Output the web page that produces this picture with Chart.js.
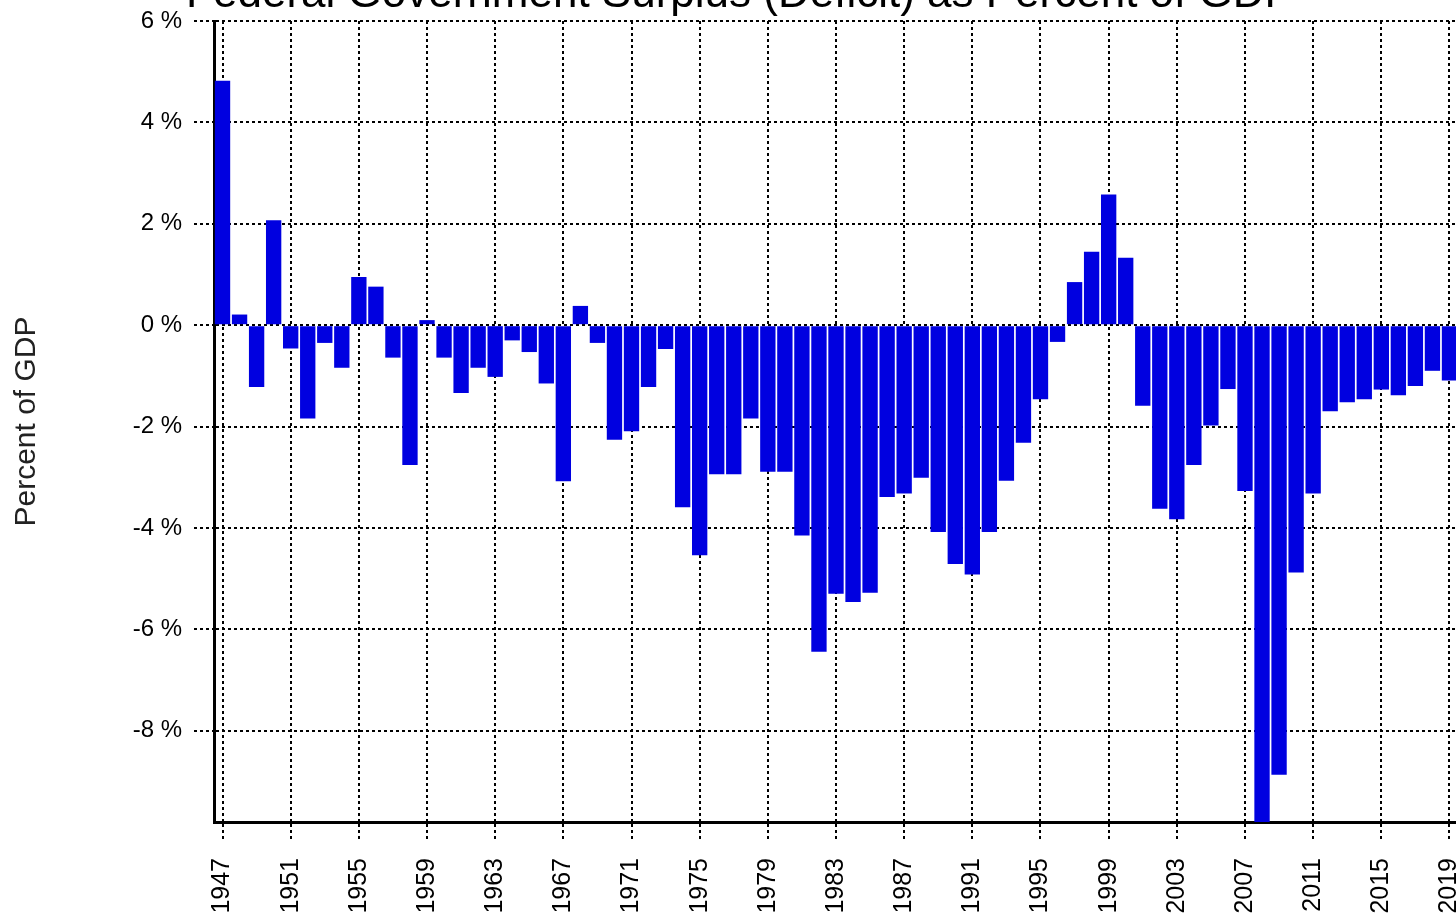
<!DOCTYPE html>
<html>
<head>
<meta charset="utf-8">
<script src="https://cdn.jsdelivr.net/npm/chart.js@4.4.1/dist/chart.umd.min.js"></script>
<style>
  html, body { margin: 0; padding: 0; background: #ffffff; overflow: hidden; width: 1456px; height: 919px; }
  #wrap { position: absolute; left: 0; top: 0; width: 1458px; height: 919px; }
</style>
</head>
<body>
<div id="wrap"><canvas id="c"></canvas></div>
<script>
const years = [
  1947, 1948, 1949, 1950, 1951, 1952, 1953, 1954, 1955, 1956,
  1957, 1958, 1959, 1960, 1961, 1962, 1963, 1964, 1965, 1966,
  1967, 1968, 1969, 1970, 1971, 1972, 1973, 1974, 1975, 1976,
  1977, 1978, 1979, 1980, 1981, 1982, 1983, 1984, 1985, 1986,
  1987, 1988, 1989, 1990, 1991, 1992, 1993, 1994, 1995, 1996,
  1997, 1998, 1999, 2000, 2001, 2002, 2003, 2004, 2005, 2006,
  2007, 2008, 2009, 2010, 2011, 2012, 2013, 2014, 2015, 2016,
  2017, 2018, 2019
];
const surplusPct = [
   4.82,  0.21, -1.22,  2.07, -0.46, -1.84, -0.35, -0.84,  0.95,  0.76,
  -0.64, -2.76,  0.10, -0.64, -1.34, -0.84, -1.02, -0.30, -0.53, -1.15,
  -3.08,  0.38, -0.35, -2.26, -2.09, -1.22, -0.47, -3.59, -4.54, -2.94,
  -2.94, -1.84, -2.89, -2.89, -4.15, -6.44, -5.30, -5.46, -5.28, -3.39,
  -3.32, -3.01, -4.08, -4.71, -4.92, -4.08, -3.07, -2.32, -1.46, -0.33,
   0.85,  1.45,  2.58,  1.33, -1.59, -3.62, -3.83, -2.76, -1.98, -1.26,
  -3.27, -10.20, -8.87, -4.88, -3.32, -1.70, -1.52, -1.46, -1.27, -1.38,
  -1.20, -0.90, -1.09
];
const yTickValues = [6, 4, 2, 0, -2, -4, -6, -8];
const xTickLabels = [1947, 1951, 1955, 1959, 1963, 1967, 1971, 1975, 1979, 1983,
                     1987, 1991, 1995, 1999, 2003, 2007, 2011, 2015, 2019];
const chartTitle = 'Federal Government Surplus (Deficit) as Percent of GDP';
const yAxisTitle = 'Percent of GDP';

const FONT = '"Liberation Sans", Arial, sans-serif';
const shown = (i) => xTickLabels.includes(years[i]);

// Title partly cut off at the top edge, as in the source image
const croppedTitle = {
  id: 'croppedTitle',
  afterDraw(chart) {
    const ctx = chart.ctx;
    ctx.save();
    ctx.font = '44px ' + FONT;
    ctx.fillStyle = '#000';
    ctx.textAlign = 'center';
    ctx.textBaseline = 'alphabetic';
    ctx.fillText(chartTitle, chart.width / 2 + 11, 7);
    ctx.restore();
  }
};

new Chart(document.getElementById('c'), {
  type: 'bar',
  data: {
    labels: years.map(String),
    datasets: [{
      data: surplusPct,
      backgroundColor: '#0000e0',
      borderWidth: 0,
      barPercentage: 0.9,
      categoryPercentage: 1.0
    }]
  },
  plugins: [croppedTitle],
  options: {
    responsive: true,
    maintainAspectRatio: false,
    devicePixelRatio: 1,
    animation: false,
    layout: { padding: { top: 21, left: 0, right: 0, bottom: 0 } },
    plugins: {
      legend: { display: false },
      tooltip: { enabled: false },
      title: { display: false }
    },
    scales: {
      x: {
        type: 'category',
        offset: true,
        grid: {
          offset: false,
          color: (ctx) => shown(ctx.index) ? '#000' : 'rgba(0,0,0,0)',
          lineWidth: 2,
          tickLength: 18,
          tickWidth: 2,
          tickColor: (ctx) => shown(ctx.index) ? '#000' : 'rgba(0,0,0,0)',
          tickBorderDash: [3, 3]
        },
        border: { display: true, color: '#000', width: 3, dash: [3, 3] },
        ticks: {
          autoSkip: false,
          minRotation: 90,
          maxRotation: 90,
          padding: 18,
          color: '#000',
          font: { family: FONT, size: 25 },
          callback: (v, i) => shown(i) ? String(years[i]) : ''
        },
        afterFit: (s) => { s.height = 97; s.paddingLeft = 0; s.paddingRight = 0; }
      },
      y: {
        min: -9.8,
        max: 6,
        afterBuildTicks: (s) => { s.ticks = yTickValues.map(v => ({ value: v })); },
        grid: {
          color: '#000',
          lineWidth: 2,
          tickLength: 20,
          tickWidth: 2,
          tickColor: '#000',
          tickBorderDash: [3, 3]
        },
        border: { display: true, color: '#000', width: 3, dash: [3, 3] },
        ticks: {
          padding: 12,
          color: '#000',
          font: { family: FONT, size: 24 },
          callback: (v) => v + ' %'
        },
        title: {
          display: true,
          text: yAxisTitle,
          color: '#222',
          font: { family: FONT, size: 30 },
          padding: { top: 9, bottom: 0 }
        },
        afterFit: (s) => { s.width = 214; s.paddingTop = 0; s.paddingBottom = 0; }
      }
    }
  }
});
</script>
</body>
</html>
